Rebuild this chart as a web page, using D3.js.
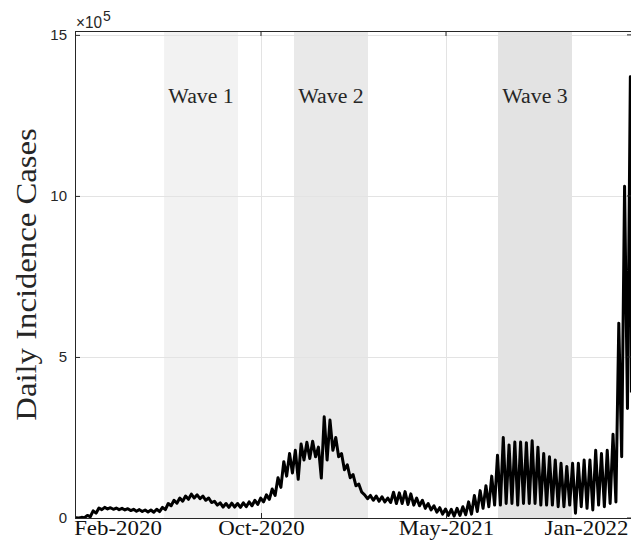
<!DOCTYPE html>
<html>
<head>
<meta charset="utf-8">
<script src="https://cdn.jsdelivr.net/npm/d3@7"></script>
<style>
  html, body { margin: 0; padding: 0; background: #fff; }
  svg { display: block; }
</style>
</head>
<body>
<svg id="chart" width="631" height="540"></svg>
<script>
// Daily incidence (in units of 1e5 cases): one weekday high and one weekend low per week
const weeklyHigh = [
  0.01, 0.02, 0.08, 0.22, 0.31, 0.33, 0.32, 0.31, 0.30, 0.29,
  0.27, 0.26, 0.25, 0.25, 0.27, 0.33, 0.45, 0.55, 0.62, 0.68,
  0.74, 0.72, 0.68, 0.62, 0.52, 0.47, 0.45, 0.46, 0.45, 0.47,
  0.50, 0.55, 0.62, 0.72, 0.90, 1.25, 1.75, 2.00, 2.10, 2.30,
  2.35, 2.38, 2.20, 3.14, 3.04, 2.50, 2.00, 1.65, 1.35, 1.05,
  0.72, 0.70, 0.68, 0.66, 0.62, 0.80, 0.78, 0.82, 0.75, 0.62,
  0.55, 0.45, 0.38, 0.32, 0.28, 0.27, 0.30, 0.35, 0.50, 0.70,
  0.85, 1.00, 1.30, 1.95, 2.50, 2.27, 2.36, 2.36, 2.34, 2.40,
  2.20, 2.00, 1.90, 1.80, 1.70, 1.60, 1.70, 1.70, 1.80, 1.80,
  2.10, 2.00, 2.10, 2.60, 6.05, 10.30, 13.70
];
const weeklyLow = [
  0.00, 0.01, 0.04, 0.15, 0.26, 0.28, 0.27, 0.26, 0.25, 0.23,
  0.21, 0.20, 0.19, 0.18, 0.20, 0.26, 0.38, 0.46, 0.52, 0.58,
  0.62, 0.60, 0.55, 0.48, 0.40, 0.34, 0.33, 0.34, 0.33, 0.35,
  0.38, 0.42, 0.50, 0.58, 0.70, 0.95, 1.30, 1.40, 1.20, 1.80,
  1.85, 1.90, 1.24, 1.80, 2.10, 1.90, 1.50, 1.25, 1.00, 0.80,
  0.60, 0.55, 0.52, 0.50, 0.48, 0.45, 0.45, 0.42, 0.40, 0.38,
  0.30, 0.25, 0.18, 0.12, 0.08, 0.06, 0.08, 0.10, 0.12, 0.20,
  0.30, 0.35, 0.40, 0.40, 0.45, 0.45, 0.40, 0.45, 0.45, 0.45,
  0.40, 0.40, 0.40, 0.35, 0.35, 0.40, 0.15, 0.35, 0.30, 0.25,
  0.40, 0.35, 0.45, 0.50, 1.90, 3.40, 3.90
];
// The record stops part-way through its final week
const lastDay = 674.3;

// Shaded wave windows (day index)
const waveNames = ["Wave 1", "Wave 2", "Wave 3"];
const waveStart = [108, 265.4, 512.6];
const waveEnd   = [197.5, 355.1, 602.3];
const waveFill  = ["#f2f2f2", "#e9e9e9", "#e3e3e3"];

// Axis ticks: labels at four dates, grid lines only at the two interior ones
const xTickDays   = [51.5, 225.4, 449.6, 619.3];
const xTickLabels = ["Feb-2020", "Oct-2020", "May-2021", "Jan-2022"];
const xGridDays   = [225.4, 449.6];
const yTicks      = [0, 5, 10, 15];

const dayMax = 675;
const yMax = 15.12;

const margin = { left: 75, right: 632, top: 31, bottom: 518 };
const svg = d3.select("#chart");
svg.append("rect").attr("width", 631).attr("height", 540).attr("fill", "#fff");

const x = d3.scaleLinear().domain([0, dayMax]).range([margin.left, margin.right]);
const y = d3.scaleLinear().domain([0, yMax]).range([margin.bottom, margin.top]);

const axisColor = "#262626";
const gridColor = "#e3e3e3";
const serif = "'Liberation Serif', 'Times New Roman', serif";
const sans = "'Liberation Sans', Arial, sans-serif";
const serifStretch = 1.09;   // widen the serif glyphs a little

function widen(sel) {
  sel.each(function () {
    const w = this.getComputedTextLength();
    d3.select(this).attr("textLength", w * serifStretch).attr("lengthAdjust", "spacingAndGlyphs");
  });
}

svg.append("clipPath").attr("id", "plotClip")
  .append("rect")
  .attr("x", margin.left).attr("y", margin.top)
  .attr("width", margin.right - margin.left)
  .attr("height", margin.bottom - margin.top);

// Wave shading
svg.append("g").selectAll("rect")
  .data(waveNames)
  .join("rect")
  .attr("x", (d, i) => x(waveStart[i]))
  .attr("width", (d, i) => x(waveEnd[i]) - x(waveStart[i]))
  .attr("y", margin.top)
  .attr("height", margin.bottom - margin.top)
  .attr("fill", (d, i) => waveFill[i]);

// Grid lines
const grid = svg.append("g").attr("stroke", gridColor).attr("stroke-width", 1);
grid.selectAll(".hg").data(yTicks.filter(v => v > 0)).join("line")
  .attr("x1", margin.left).attr("x2", margin.right)
  .attr("y1", d => Math.round(y(d)) + 0.5).attr("y2", d => Math.round(y(d)) + 0.5);
grid.selectAll(".vg").data(xGridDays).join("line")
  .attr("y1", margin.top).attr("y2", margin.bottom)
  .attr("x1", d => Math.round(x(d)) + 0.5).attr("x2", d => Math.round(x(d)) + 0.5);

// Wave labels
svg.append("g").selectAll("text")
  .data(waveNames)
  .join("text")
  .attr("x", (d, i) => x((waveStart[i] + waveEnd[i]) / 2))
  .attr("y", 103)
  .attr("text-anchor", "middle")
  .attr("font-family", serif)
  .style("font-size", "20px")
  .attr("fill", "#262626")
  .text(d => d)
  .call(widen);

// Series: weekday high then weekend low, week by week
const points = [];
weeklyHigh.forEach((h, k) => {
  points.push({ day: 7 * k + 1, v: h });
  points.push({ day: Math.min(7 * k + 4.5, lastDay), v: weeklyLow[k] });
});

svg.append("path")
  .datum(points)
  .attr("clip-path", "url(#plotClip)")
  .attr("fill", "none")
  .attr("stroke", "#000")
  .attr("stroke-width", 3)
  .attr("stroke-linejoin", "round")
  .attr("d", d3.line().x(d => x(d.day)).y(d => y(d.v)));

// Axes
const xAxis = d3.axisBottom(x).tickValues(xTickDays).tickFormat((d, i) => xTickLabels[i])
  .tickSizeInner(-5).tickSizeOuter(0).tickPadding(2);
const gx = svg.append("g").attr("transform", `translate(0,${margin.bottom})`).call(xAxis);
gx.select(".domain").attr("stroke", axisColor);
gx.selectAll(".tick line")
  .attr("stroke", axisColor)
  .attr("display", d => xGridDays.includes(d) ? null : "none");
gx.selectAll(".tick text")
  .attr("font-family", serif)
  .style("font-size", "21px")
  .attr("fill", "#111")
  .attr("dy", "0.71em")
  .call(widen);

const yAxis = d3.axisLeft(y).tickValues(yTicks).tickFormat(d3.format("d"))
  .tickSizeInner(-5).tickSizeOuter(0).tickPadding(8);
const gy = svg.append("g").attr("transform", `translate(${margin.left},0)`).call(yAxis);
gy.select(".domain").attr("stroke", axisColor);
gy.selectAll(".tick line").attr("stroke", axisColor);
gy.selectAll(".tick text")
  .attr("font-family", sans)
  .style("font-size", "15px")
  .attr("fill", axisColor);

// Box: top and right edges with mirrored ticks
svg.append("line").attr("x1", margin.left).attr("x2", margin.right)
  .attr("y1", margin.top + 0.5).attr("y2", margin.top + 0.5).attr("stroke", axisColor);
svg.append("line").attr("x1", margin.right - 0.5).attr("x2", margin.right - 0.5)
  .attr("y1", margin.top).attr("y2", margin.bottom).attr("stroke", axisColor);
svg.append("g").selectAll("line").data(yTicks).join("line")
  .attr("x1", margin.right - 5).attr("x2", margin.right)
  .attr("y1", d => y(d)).attr("y2", d => y(d)).attr("stroke", axisColor);
svg.append("g").selectAll("line").data(xGridDays).join("line")
  .attr("x1", d => x(d)).attr("x2", d => x(d))
  .attr("y1", margin.top).attr("y2", margin.top + 5).attr("stroke", axisColor);

// Exponent label: "×10" with a raised "5"
svg.append("text")
  .attr("x", 76).attr("y", 28)
  .attr("font-family", sans)
  .style("font-size", "16px")
  .attr("fill", axisColor)
  .attr("textLength", 26)
  .attr("lengthAdjust", "spacingAndGlyphs")
  .text("\u00d710");
svg.append("text")
  .attr("x", 103).attr("y", 21)
  .attr("font-family", sans)
  .style("font-size", "14px")
  .attr("fill", axisColor)
  .text("5");

// Y axis title
svg.append("text")
  .attr("transform", `translate(36,${(margin.top + margin.bottom) / 2}) rotate(-90)`)
  .attr("text-anchor", "middle")
  .attr("font-family", serif)
  .style("font-size", "30px")
  .attr("fill", "#262626")
  .text("Daily Incidence Cases")
  .call(widen);
</script>
</body>
</html>
